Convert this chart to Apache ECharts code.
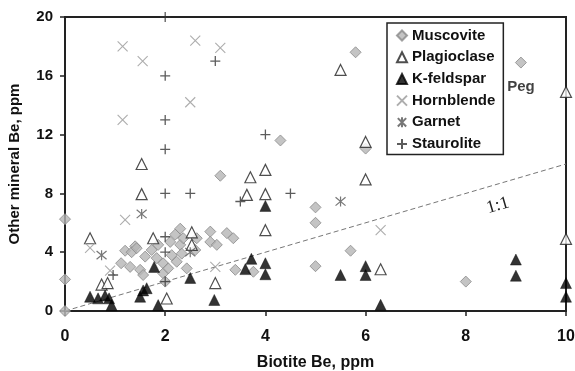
<!DOCTYPE html>
<html>
<head>
<meta charset="utf-8">
<script src="https://cdn.jsdelivr.net/npm/echarts@6/dist/echarts.min.js"></script>
<style>
  html, body { margin: 0; padding: 0; background: #fff; }
  #chart { width: 575px; height: 371px; }
</style>
</head>
<body>
<div id="chart"></div>
<script>
// Be in coexisting minerals vs. Be in biotite, ppm  [biotite, other mineral]
const muscovite = [
  [0, 6.25], [0, 2.15], [0, 0], [1.12, 3.25], [1.2, 4.1], [1.3, 3.0], [1.4, 4.4],
  [1.33, 4.0], [1.43, 4.27], [1.5, 2.8], [1.56, 2.45], [1.6, 3.7], [1.73, 4.15],
  [1.83, 3.6], [1.86, 4.5], [1.96, 3.24], [1.96, 2.56], [2.0, 2.0], [2.06, 2.9],
  [2.1, 4.7], [2.13, 3.8], [2.2, 5.2], [2.23, 3.35], [2.3, 5.6], [2.3, 4.5],
  [2.33, 3.9], [2.36, 4.95], [2.43, 2.9], [2.6, 4.15], [2.63, 4.95], [2.9, 5.4],
  [2.9, 4.7], [3.03, 4.5], [3.1, 9.2], [3.23, 5.3], [3.36, 4.95], [3.4, 2.8],
  [3.76, 2.67], [4.3, 11.6], [5.0, 7.05], [5.0, 6.0], [5.0, 3.05], [5.7, 4.1],
  [5.8, 17.6], [6.0, 11.05], [8.0, 2.0]
];
const pegmatite = [9.1, 16.9];
const plagioclase = [
  [0.5, 4.95], [0.73, 1.8], [0.85, 1.9], [1.53, 10.0], [1.53, 7.95], [1.76, 4.95],
  [2.03, 0.85], [2.53, 5.35], [2.53, 4.5], [3.0, 1.9], [3.63, 7.9], [3.7, 9.1],
  [4.0, 9.6], [4.0, 7.95], [4.0, 5.5], [5.5, 16.4], [6.0, 11.5], [6.0, 8.95],
  [6.3, 2.84], [10, 14.9], [10, 4.9]
];
const kfeldspar = [
  [0.5, 0.97], [0.66, 0.86], [0.8, 1.05], [0.88, 0.86], [0.93, 0.4], [1.5, 0.97],
  [1.56, 1.4], [1.63, 1.55], [1.78, 3.0], [1.86, 0.4], [2.5, 2.25], [2.98, 0.75],
  [3.6, 2.85], [3.72, 3.55], [4.0, 7.15], [4.0, 3.25], [4.0, 2.5], [5.5, 2.45],
  [6.0, 3.05], [6.0, 2.45], [6.3, 0.42], [9.0, 3.5], [9.0, 2.4], [10, 1.9], [10, 0.97]
];
const hornblende = [
  [0.5, 4.3], [0.9, 2.75], [1.15, 18], [1.15, 13], [1.2, 6.2], [1.55, 17],
  [2.5, 14.2], [2.6, 18.4], [3.0, 3.0], [3.1, 17.9], [6.3, 5.5]
];
const garnet = [[0.73, 3.8], [1.53, 6.6], [2.5, 4.0], [5.5, 7.45]];
const staurolite = [
  [0.96, 2.45], [2.0, 20], [2.0, 16], [2.0, 13], [2.0, 11], [2.0, 8], [2.0, 5.05],
  [2.0, 4.0], [2.0, 2.0], [2.5, 8.0], [3.0, 17.0], [3.5, 7.45], [4.0, 12.0], [4.5, 8.0]
];
const oneToOne = [[0, 0], [10, 10]];
const seriesNames = ['Muscovite', 'Plagioclase', 'K-feldspar', 'Hornblende', 'Garnet', 'Staurolite'];

const FONT = '"Liberation Sans", Arial, sans-serif';
const CROSS = 'path://M0,0L10,10M10,0L0,10';
const STAR = 'path://M0,0L10,10M10,0L0,10M5,-1L5,11';
const PLUS = 'path://M5,0L5,10M0,5L10,5';

const chart = echarts.init(document.getElementById('chart'), null, { renderer: 'canvas' });

const option = {
  animation: false,
  backgroundColor: '#fff',
  grid: {
    left: 65, right: 9, top: 17, bottom: 60,
    outerBoundsMode: 'none', containLabel: false,
    show: true, borderColor: '#222', borderWidth: 2, backgroundColor: 'transparent'
  },
  legend: {
    data: seriesNames,
    orient: 'vertical',
    left: 387, top: 23,
    padding: [5, 8, 3, 9],
    itemWidth: 10, itemHeight: 10, itemGap: 6.7,
    borderColor: '#222', borderWidth: 1.5, backgroundColor: '#fff',
    textStyle: { fontFamily: FONT, fontSize: 15, fontWeight: 'bold', color: '#111' }
  },
  xAxis: {
    type: 'value', min: 0, max: 10, interval: 2,
    name: 'Biotite Be, ppm', nameLocation: 'middle', nameGap: 44,
    nameTextStyle: { fontFamily: FONT, fontSize: 16, fontWeight: 'bold', color: '#111' },
    axisLine: { show: true, onZero: false, lineStyle: { color: '#222', width: 2 } },
    axisTick: { show: true, length: 5, lineStyle: { color: '#222', width: 1.5 } },
    axisLabel: { margin: 18, fontFamily: FONT, fontSize: 16, fontWeight: 'bold', color: '#111' },
    splitLine: { show: false }
  },
  yAxis: {
    type: 'value', min: 0, max: 20, interval: 4,
    name: 'Other mineral Be, ppm', nameLocation: 'middle', nameGap: 43, nameRotate: 90,
    nameTextStyle: { fontFamily: FONT, fontSize: 15, fontWeight: 'bold', color: '#111' },
    axisLine: { show: true, onZero: false, lineStyle: { color: '#222', width: 2 } },
    axisTick: { show: true, length: 5, lineStyle: { color: '#222', width: 1.5 } },
    axisLabel: { margin: 12, fontFamily: FONT, fontSize: 15, fontWeight: 'bold', color: '#111' },
    splitLine: { show: false }
  },
  series: [
    {
      name: '1:1', type: 'line', data: oneToOne, symbol: 'none', silent: true, z: 1,
      lineStyle: { color: '#777', width: 1, type: [5, 3] }
    },
    {
      name: 'Muscovite', type: 'scatter', symbol: 'diamond', symbolSize: 11, z: 2,
      itemStyle: { color: '#b5b5b5', borderColor: '#8a8a8a', borderWidth: 1 },
      data: muscovite.concat([{
        value: pegmatite,
        label: {
          show: true, formatter: 'Peg', position: 'bottom', distance: 11,
          fontFamily: FONT, fontSize: 15, fontWeight: 'bold', color: '#111'
        }
      }])
    },
    {
      name: 'Plagioclase', type: 'scatter', symbol: 'triangle', symbolSize: 11, z: 3,
      itemStyle: { color: '#fff', borderColor: '#222', borderWidth: 1.2 },
      data: plagioclase
    },
    {
      name: 'K-feldspar', type: 'scatter', symbol: 'triangle', symbolSize: 11, z: 4,
      itemStyle: { color: '#000', borderColor: '#000', borderWidth: 0.5 },
      data: kfeldspar
    },
    {
      name: 'Hornblende', type: 'scatter', symbol: CROSS, symbolSize: 10, z: 5,
      itemStyle: { color: 'rgba(0,0,0,0)', borderColor: '#999', borderWidth: 1.1 },
      data: hornblende
    },
    {
      name: 'Garnet', type: 'scatter', symbol: STAR, symbolSize: 10, z: 5,
      itemStyle: { color: 'rgba(0,0,0,0)', borderColor: '#555', borderWidth: 1.2 },
      data: garnet
    },
    {
      name: 'Staurolite', type: 'scatter', symbol: PLUS, symbolSize: 10, z: 6,
      itemStyle: { color: 'rgba(0,0,0,0)', borderColor: '#333', borderWidth: 1.3 },
      data: staurolite
    }
  ]
};
chart.setOption(option);

// "1:1" caption placed just below the reference line, rotated to follow it
const p0 = chart.convertToPixel({ gridIndex: 0 }, oneToOne[0]);
const p1 = chart.convertToPixel({ gridIndex: 0 }, oneToOne[1]);
const angle = Math.atan2(p0[1] - p1[1], p1[0] - p0[0]);
const anchor = chart.convertToPixel({ gridIndex: 0 }, [8.6, 8.6]);
chart.setOption({
  graphic: [{
    type: 'text',
    x: anchor[0] + 2, y: anchor[1] + 21,
    rotation: angle,
    style: {
      text: '1:1', fontFamily: '"Liberation Serif", "DejaVu Serif", serif',
      fontSize: 18, fill: '#222', align: 'center', verticalAlign: 'middle'
    }
  }]
});
</script>
</body>
</html>
